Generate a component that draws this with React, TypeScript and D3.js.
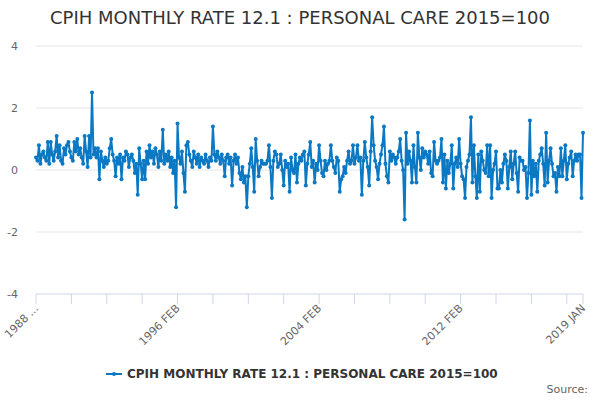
import React from 'react';
import * as d3 from 'd3';

const TITLE = 'CPIH MONTHLY RATE 12.1 : PERSONAL CARE 2015=100';
const SERIES_NAME = 'CPIH MONTHLY RATE 12.1 : PERSONAL CARE 2015=100';

const MONTHS = ['JAN', 'FEB', 'MAR', 'APR', 'MAY', 'JUN', 'JUL', 'AUG', 'SEP', 'OCT', 'NOV', 'DEC'];

// monthly rate, 1988 FEB .. 2019 JAN (one row per 12 months)
const values: number[] = [
  0.4, 0.3, 0.8, 0.2, 0.5, 0.6, 0.4, 0.3, 0.9, 0.2, 0.9, 0.5,
  0.3, 0.6, 1.1, 0.4, 0.8, 0.3, 0.2, 0.7, 0.5, 0.8, 0.9, 0.6,
  0.4, 0.3, 0.9, 0.6, 1.0, 0.5, 0.7, 0.4, 0.2, 1.1, 0.6, 0.1,
  1.1, 0.4, 2.5, 0.5, 0.7, 0.4, 0.7, -0.3, 0.6, 0.3, 0.1, 0.4,
  0.2, 0.3, 0.7, 1.0, 0.5, 0.3, -0.2, 0.4, 0.2, 0.5, -0.3, 0.4,
  0.3, 0.6, 0.5, 0.1, 0.4, 0.5, 0.3, -0.1, 0.2, -0.8, 0.7, 0.2,
  -0.3, 0.3, -0.3, 0.6, 0.2, 0.8, 0.4, 0.6, 0.2, 0.7, 0.5, 0.1,
  0.6, 0.3, 1.3, 0.2, 0.5, 0.3, 0.6, 0.1, 0.4, -0.1, 0.3, -1.2,
  1.5, 0.4, 0.2, 0.6, -0.1, -0.7, 0.8, 0.9, 0.5, 0.3, 0.1, 0.6,
  0.4, 0.2, 0.5, 0.1, 0.4, 0.3, 0.2, 0.5, 0.3, 0.1, 0.4, 0.3,
  1.4, 0.5, 0.3, 0.6, 0.4, 0.2, 0.5, 0.3, -0.2, 0.4, 0.5, 0.2,
  0.4, -0.5, 0.3, 0.5, 0.2, 0.4, -0.1, -0.3, 0.1, -0.4, -0.2, -1.2,
  -0.2, 0.2, 0.7, 0.1, -0.7, 1.0, 0.3, -0.2, 0.1, 0.3, 0.2, 0.2,
  0.2, 0.3, 0.8, 0.1, -0.9, 0.3, 0.6, 0.5, 0.1, 0.2, 0.5, 0.0,
  -0.5, 0.3, 0.1, 0.2, -0.7, 0.4, 0.0, -0.1, 0.5, -0.4, 0.2, 0.4,
  0.3, 0.5, 0.6, -0.5, 0.2, 0.5, 0.9, 0.1, 0.3, -0.4, 0.2, 0.0,
  0.8, 0.3, -0.1, -0.2, 0.3, 0.0, 0.2, 0.3, 0.8, 0.3, 0.1, -0.1,
  0.4, 0.3, -0.7, -0.3, -0.2, 0.1, -0.1, 0.3, 0.6, 0.2, 0.3, 0.8,
  0.2, 0.4, 0.8, 0.3, 0.4, -0.8, 0.3, 0.9, 0.4, 0.1, -0.5, 0.6,
  1.7, 0.8, 0.3, 0.1, -0.3, 0.2, 0.5, 0.8, 1.4, 0.2, -0.2, -0.4,
  0.6, 0.3, 0.5, 0.4, 0.2, 0.4, 0.6, 1.0, 0.3, 0.0, -1.6, 1.2,
  0.2, 0.6, 0.3, -0.4, 0.8, 0.1, -0.4, 1.2, 0.4, 0.0, 0.7, 0.4,
  0.6, 0.5, 0.2, 0.6, -0.1, -0.2, 0.9, 0.3, 0.2, 0.3, 0.4, 1.0,
  -0.4, 0.5, -0.6, 0.3, -0.1, 0.2, 0.8, -0.6, 0.2, 0.4, 0.1, 1.0,
  0.2, -0.2, -0.3, -0.9, 0.1, 0.3, 0.5, 1.7, -0.4, 0.8, -0.2, -0.9,
  0.5, -0.7, 0.6, 0.3, 0.0, -0.1, 0.8, -0.2, 0.8, -0.9, 0.0, 0.2,
  0.6, -0.6, -0.6, 0.0, -0.4, 0.2, 0.5, 0.3, -0.6, 0.1, 0.6, -0.3,
  0.2, 0.6, -0.1, -0.7, 0.4, 0.3, 0.3, 0.0, 0.1, -0.9, -0.1, 1.6,
  -0.8, 0.3, -0.2, 0.2, -0.7, 0.3, 0.5, 0.7, 0.2, -0.5, 1.2, -0.4,
  0.3, 0.7, 0.2, -0.2, -0.1, -0.7, 0.1, -0.2, 0.7, -0.2, 0.3, 0.8,
  -0.3, 0.2, 0.4, 0.6, -0.2, 0.3, 0.5, 0.3, 0.5, 0.5, -0.9, 1.2,
];

// category names built from the start month
const categories: string[] = values.map((_, i) => {
  const m = 1 + i; // 1988 FEB is month index 1
  return `${1988 + Math.floor(m / 12)} ${MONTHS[m % 12]}`;
});

const yTicks = [-4, -2, 0, 2, 4];
const tickEvery = 24;
const labelled = [0, 96, 192, 288, categories.length - 1];

const W = 600;
const H = 400;
const plot = { left: 36, right: 583, top: 46, bottom: 294 };
const COLOR = '#0a78c3';
const FONT = '"DejaVu Sans", "Lucida Grande", Arial, sans-serif';

export default function App() {
  const x = d3.scaleLinear().domain([0, categories.length - 1]).range([plot.left, plot.right]);
  const y = d3.scaleLinear().domain([-4, 4]).range([plot.bottom, plot.top]);

  const line = d3.line<number>()
    .x((_, i) => x(i))
    .y(d => y(d));

  const ticks = d3.range(0, categories.length, tickEvery).concat([categories.length - 1]);

  const labelText = (i: number) => (i === 0 ? '1988 ...' : categories[i]);

  return (
    <div style={{ position: 'absolute', left: 0, top: 0 }}>
      <svg width={W} height={H} style={{ display: 'block', fontFamily: FONT }}>
        <rect width={W} height={H} fill="#fff" />
        <text x={W / 2} y={24} textAnchor="middle" fontSize={18} fill="#333">{TITLE}</text>

        {yTicks.map(t => (
          <g key={t}>
            {t !== -4 && (
              <line x1={plot.left} x2={plot.right} y1={y(t)} y2={y(t)} stroke="#e6e6e6" />
            )}
            <text x={18} y={y(t) + 4} textAnchor="end" fontSize={11} fill="#666">{t}</text>
          </g>
        ))}

        <line x1={plot.left} x2={plot.right} y1={plot.bottom} y2={plot.bottom} stroke="#ccd6eb" />
        {ticks.map(i => (
          <line key={i} x1={x(i)} x2={x(i)} y1={plot.bottom} y2={plot.bottom + 10} stroke="#ccd6eb" />
        ))}
        {labelled.map(i => (
          <text
            key={i}
            transform={`translate(${x(i) + 3},${plot.bottom + 15}) rotate(-45)`}
            textAnchor="end"
            fontSize={11}
            fill="#666"
          >
            {labelText(i)}
          </text>
        ))}

        <path d={line(values) ?? ''} fill="none" stroke={COLOR} strokeWidth={2} strokeLinejoin="round" />
        {values.map((v, i) => (
          <circle key={i} cx={x(i)} cy={y(v)} r={2} fill={COLOR} />
        ))}

        <g transform="translate(106,374)">
          <line x1={0} x2={16} y1={0} y2={0} stroke={COLOR} strokeWidth={2} />
          <circle cx={8} cy={0} r={2} fill={COLOR} />
          <text x={21} y={4} fontSize={12} fontWeight="bold" fill="#333">{SERIES_NAME}</text>
        </g>

        <text x={588} y={393} textAnchor="end" fontSize={11} fill="#666">Source:</text>
      </svg>
    </div>
  );
}
